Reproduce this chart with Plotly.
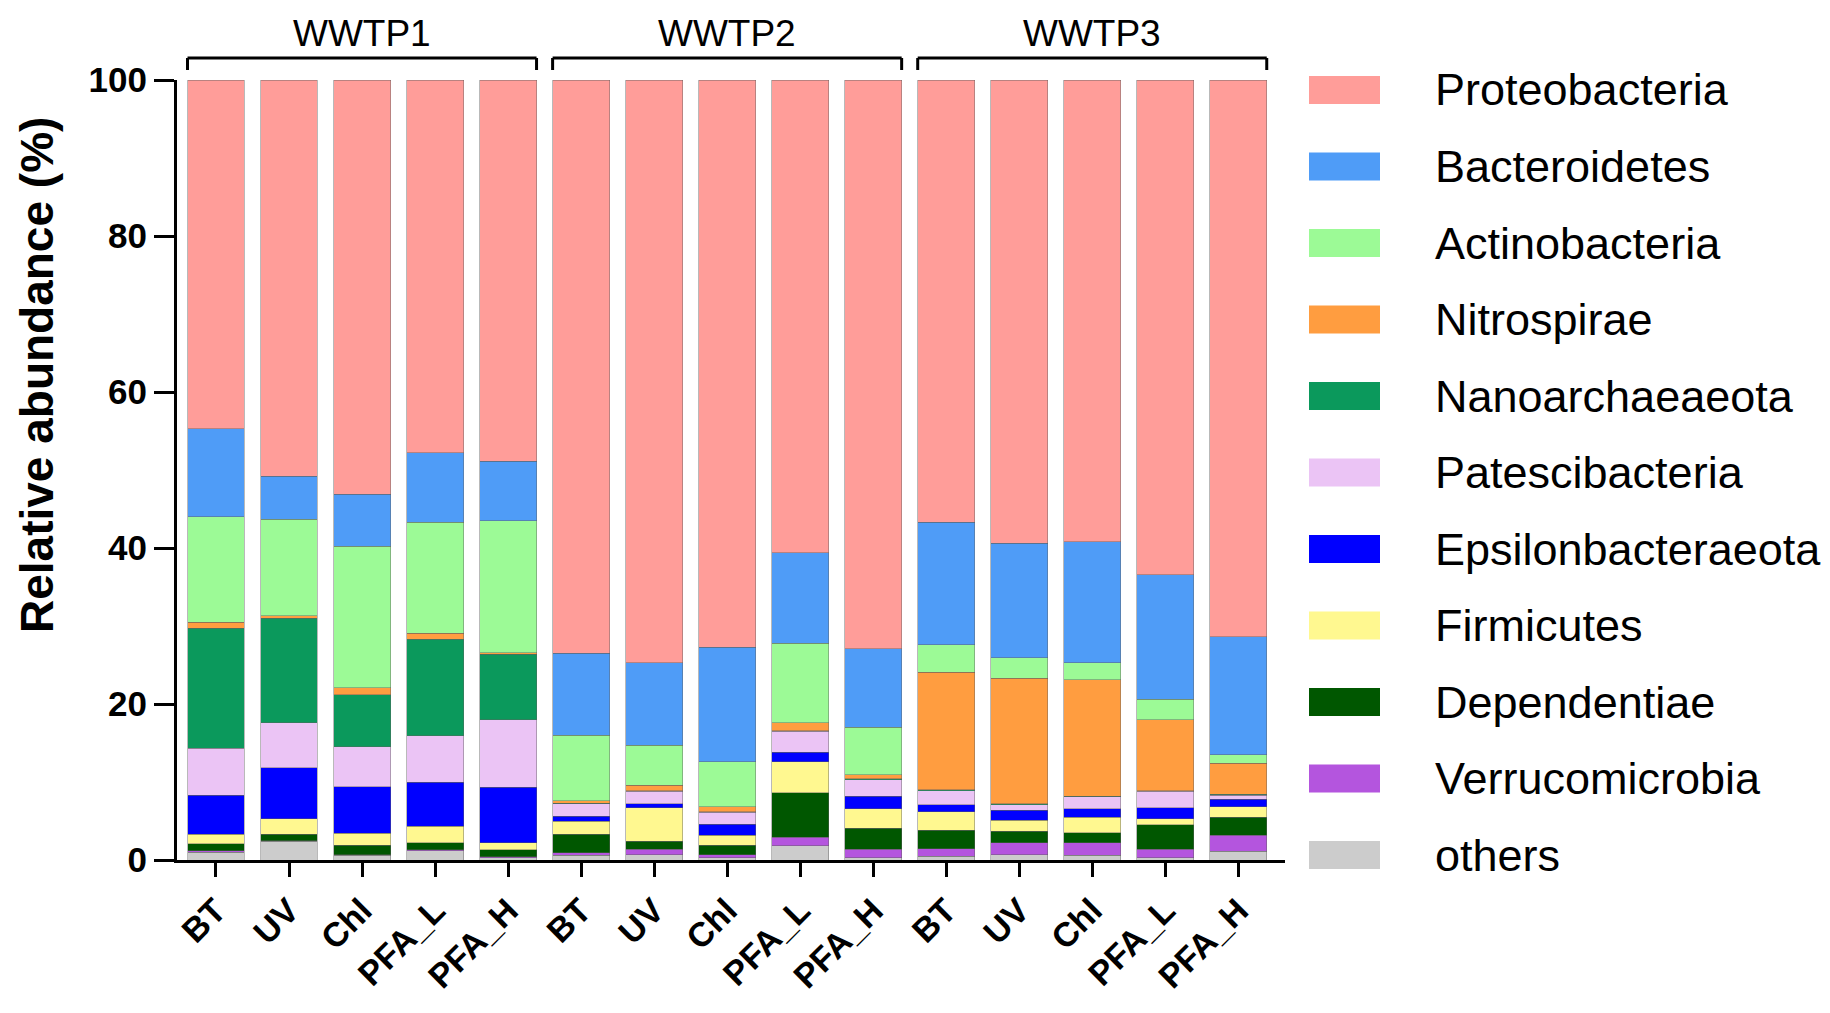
import plotly.graph_objects as go

samples = ["BT", "UV", "Chl", "PFA_L", "PFA_H"] * 3
plants = ["WWTP1", "WWTP2", "WWTP3"]

phyla = ["others", "Verrucomicrobia", "Dependentiae", "Firmicutes", "Epsilonbacteraeota",
         "Patescibacteria", "Nanoarchaeaeota", "Nitrospirae", "Actinobacteria",
         "Bacteroidetes", "Proteobacteria"]

others = [1.0, 2.4, 0.6, 1.2, 0.3, 0.6, 0.7, 0.3, 1.8, 0.3, 0.5, 0.7, 0.6, 0.3, 1.1]
verrucomicrobia = [0.2, 0.1, 0.1, 0.1, 0.1, 0.3, 0.7, 0.4, 1.1, 1.1, 0.95, 1.5, 1.6, 1.1, 2.1]
dependentiae = [0.9, 0.8, 1.2, 0.9, 0.9, 2.4, 1.0, 1.2, 5.7, 2.7, 2.35, 1.5, 1.3, 3.1, 2.3]
firmicutes = [1.2, 2.0, 1.5, 2.1, 0.9, 1.7, 4.3, 1.3, 4.0, 2.5, 2.4, 1.4, 2.0, 0.8, 1.3]
epsilonbacteraeota = [5.0, 6.5, 6.0, 5.7, 7.1, 0.6, 0.5, 1.4, 1.2, 1.6, 0.9, 1.3, 1.1, 1.4, 1.0]
patescibacteria = [6.0, 5.8, 5.1, 5.9, 8.7, 1.6, 1.6, 1.5, 2.7, 2.1, 1.8, 0.7, 1.5, 2.1, 0.5]
nanoarchaeaeota = [15.4, 13.4, 6.7, 12.4, 8.4, 0.1, 0.1, 0.1, 0.1, 0.1, 0.1, 0.1, 0.1, 0.1, 0.1]
nitrospirae = [0.8, 0.3, 0.9, 0.8, 0.2, 0.3, 0.7, 0.6, 1.0, 0.5, 15.1, 16.1, 14.9, 9.1, 4.0]
actinobacteria = [13.5, 12.4, 18.1, 14.2, 16.9, 8.4, 5.1, 5.8, 10.2, 6.1, 3.5, 2.6, 2.2, 2.6, 1.1]
bacteroidetes = [11.3, 5.5, 6.7, 8.9, 7.6, 10.5, 10.6, 14.7, 11.6, 10.1, 15.7, 14.7, 15.5, 16.0, 15.1]
proteobacteria = [44.7, 50.8, 53.1, 47.8, 48.9, 73.5, 74.7, 72.7, 60.6, 72.9, 56.7, 59.4, 59.2, 63.4, 71.4]

values = [others, verrucomicrobia, dependentiae, firmicutes, epsilonbacteraeota,
          patescibacteria, nanoarchaeaeota, nitrospirae, actinobacteria,
          bacteroidetes, proteobacteria]

colors = {
    "Proteobacteria": "#FF9D99",
    "Bacteroidetes": "#4F9CF7",
    "Actinobacteria": "#9CFA96",
    "Nitrospirae": "#FF9D40",
    "Nanoarchaeaeota": "#0B995C",
    "Patescibacteria": "#EBC4F5",
    "Epsilonbacteraeota": "#0000FF",
    "Firmicutes": "#FFF890",
    "Dependentiae": "#005700",
    "Verrucomicrobia": "#B455DE",
    "others": "#CCCCCC",
}

FONT = "Liberation Sans, Arial, sans-serif"
x_idx = list(range(len(samples)))

fig = go.Figure()
for name, vals in zip(phyla, values):
    fig.add_trace(go.Bar(
        x=x_idx, y=vals, name=name,
        marker=dict(color=colors[name], line=dict(color="rgba(95,95,95,0.55)", width=0.8)),
        showlegend=False,
    ))

# page geometry: the page body adds an 8px offset
OFF = 8
FW, FH = 1822, 1005
L, R, T, B = 177 - OFF, 1285 - OFF, 80 - OFF, 860 - OFF
W, H = R - L, B - T

def px_x(p):
    return (p - OFF - L) / W

def px_y(p):
    return (B - (p - OFF)) / H

shapes = []
annotations = []

# group brackets
for g, plant in enumerate(plants):
    x0 = g * 5 - 0.39
    x1 = g * 5 + 4 + 0.39
    yb = px_y(58)
    yt = px_y(70)
    shapes.append(dict(type="line", xref="x", yref="paper", x0=x0, x1=x1, y0=yb, y1=yb,
                       line=dict(color="black", width=3)))
    for xx in (x0, x1):
        shapes.append(dict(type="line", xref="x", yref="paper", x0=xx, x1=xx, y0=yb, y1=yt,
                           line=dict(color="black", width=3)))
    annotations.append(dict(x=g * 5 + 2, y=px_y(58), xref="x", yref="paper", text=plant,
                            showarrow=False, yanchor="bottom", yshift=2,
                            font=dict(family=FONT, size=37, color="black")))

# legend (top item = Proteobacteria)
legend_order = list(reversed(phyla))
for i, name in enumerate(legend_order):
    cy = 90 + i * 76.5
    shapes.append(dict(type="rect", xref="paper", yref="paper",
                       x0=px_x(1309), x1=px_x(1380), y0=px_y(cy + 14), y1=px_y(cy - 14),
                       fillcolor=colors[name], line=dict(width=0)))
    annotations.append(dict(x=px_x(1433), y=px_y(cy), xref="paper", yref="paper", text=name,
                            showarrow=False, xanchor="left", yanchor="middle",
                            font=dict(family=FONT, size=45, color="black")))

# y-axis title
annotations.append(dict(x=px_x(37), y=px_y(375), xref="paper", yref="paper",
                        text="<b>Relative abundance (%)</b>", textangle=-90, showarrow=False,
                        xanchor="center", yanchor="middle",
                        font=dict(family=FONT, size=46, color="black")))

fig.update_layout(
    width=FW, height=FH,
    margin=dict(l=L, r=FW - R, t=T, b=FH - B),
    barmode="stack", bargap=0.22,
    plot_bgcolor="white", paper_bgcolor="white",
    font=dict(family=FONT, color="black"),
    shapes=shapes, annotations=annotations,
)
fig.update_xaxes(
    range=[-0.534, 14.64], tickmode="array", tickvals=x_idx,
    ticktext=["<b>%s</b>" % s for s in samples], tickangle=-45,
    tickfont=dict(family=FONT, size=34, color="black"),
    showline=True, linecolor="black", linewidth=3,
    ticks="outside", ticklen=14, tickwidth=3, tickcolor="black",
    showgrid=False, zeroline=False,
)
fig.update_yaxes(
    range=[0, 100], tickmode="array", tickvals=[0, 20, 40, 60, 80, 100],
    ticktext=["<b>%d</b>" % v for v in [0, 20, 40, 60, 80, 100]],
    tickfont=dict(family=FONT, size=35, color="black"),
    showline=True, linecolor="black", linewidth=3,
    ticks="outside", ticklen=20, tickwidth=3, tickcolor="black",
    showgrid=False, zeroline=False,
)

fig.write_html("out.html")
